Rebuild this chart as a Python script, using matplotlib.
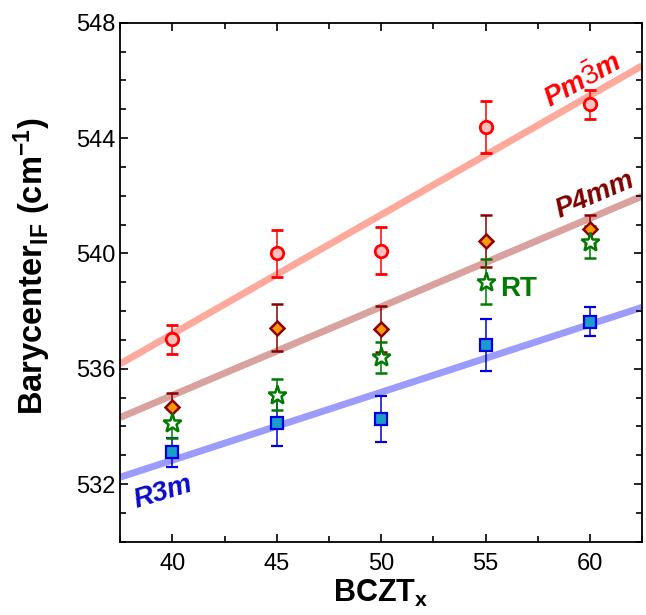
import numpy as np
import matplotlib
matplotlib.use("Agg")
import matplotlib.pyplot as plt
from matplotlib.ticker import MultipleLocator

plt.rcParams['font.family'] = ['Liberation Sans', 'DejaVu Sans']
plt.rcParams['mathtext.fontset'] = 'custom'
plt.rcParams['mathtext.rm'] = 'Liberation Sans'
plt.rcParams['mathtext.bf'] = 'Liberation Sans:bold'
plt.rcParams['mathtext.it'] = 'Liberation Sans:bold:italic'

# BCZT composition and Raman barycenter of the IF band (cm^-1)
x = np.array([40, 45, 50, 55, 60])
cubic = np.array([537.03, 540.00, 540.10, 544.40, 545.17])
cubic_err = np.array([0.5, 0.8, 0.8, 0.9, 0.5])
tetra = np.array([534.67, 537.43, 537.37, 540.44, 540.84])
tetra_err = np.array([0.5, 0.8, 0.8, 0.9, 0.5])
rt = np.array([534.11, 535.10, 536.40, 539.02, 540.39])
rt_err = np.array([0.5, 0.53, 0.53, 0.78, 0.55])
rhombo = np.array([533.10, 534.11, 534.26, 536.83, 537.63])
rhombo_err = np.array([0.5, 0.8, 0.8, 0.9, 0.5])

fig = plt.figure(figsize=(6.46, 6.15), dpi=100)
ax = fig.add_axes([0.186, 0.119, 0.808, 0.844])

xx = np.array([37.5, 62.5])
for y, c in [(cubic, '#ffa99c'), (tetra, '#d9a29e'), (rhombo, '#9c9cff')]:
    p = np.polyfit(x, y, 1)
    ax.plot(xx, np.polyval(p, xx), color=c, lw=5, solid_capstyle='butt', zorder=1)

ekw = dict(capsize=4.5, elinewidth=1.1, capthick=1.1, linestyle='none', zorder=3)
ax.errorbar(x, rhombo, yerr=rhombo_err, marker='s', ms=8, mfc='#1a9ccc',
            mec='#0000dd', mew=1.6, color='#0000dd', **ekw)
ax.errorbar(x, tetra, yerr=tetra_err, marker='D', ms=7.5, mfc='#ff9900',
            mec='#8b0000', mew=1.8, color='#8b0000', **ekw)
ax.errorbar(x, rt, yerr=rt_err, marker='*', ms=14, mfc='white',
            mec='#007a00', mew=1.8, color='#007a00', **ekw)
ax.errorbar(x, cubic, yerr=cubic_err, marker='o', ms=9, mfc='#ffc0c0',
            mec='#ff0000', mew=2, color='#ff0000', **ekw)

ax.text(59.67, 546.0, r'$\mathit{Pm\bar{3}m}$', color='#ff0000', fontsize=20,
        rotation=29, ha='center', va='center')
ax.text(60.25, 542.03, 'P4mm', color='#800000', fontsize=20, fontweight='bold',
        fontstyle='italic', rotation=23, ha='center', va='center')
ax.text(39.56, 531.7, 'R3m', color='#0a0acc', fontsize=20, fontweight='bold',
        fontstyle='italic', rotation=17, ha='center', va='center')
ax.text(56.56, 538.77, 'RT', color='#007a00', fontsize=20, fontweight='bold',
        ha='center', va='center')

ax.set_xlim(37.5, 62.5)
ax.set_ylim(530, 548)
ax.xaxis.set_major_locator(MultipleLocator(5))
ax.xaxis.set_minor_locator(MultipleLocator(2.5))
ax.yaxis.set_major_locator(MultipleLocator(4))
ax.yaxis.set_minor_locator(MultipleLocator(1))
ax.tick_params(which='both', direction='in', top=True, right=True, width=1.2,
               labelsize=17)
ax.tick_params(which='major', length=6)
ax.tick_params(which='minor', length=4)
ax.tick_params(axis='x', labeltop=False, pad=8)
for s in ax.spines.values():
    s.set_linewidth(1.3)

ax.set_xlabel(r'BCZT$_{\mathbf{x}}$', fontsize=22, fontweight='bold', labelpad=2)
ax.set_ylabel(r'Barycenter$_{\mathbf{IF}}$ (cm$^{\mathbf{-1}}$)', fontsize=23.5,
              fontweight='bold')
ax.yaxis.set_label_coords(-0.128, 0.53)

fig.savefig('out.png', dpi=100)
